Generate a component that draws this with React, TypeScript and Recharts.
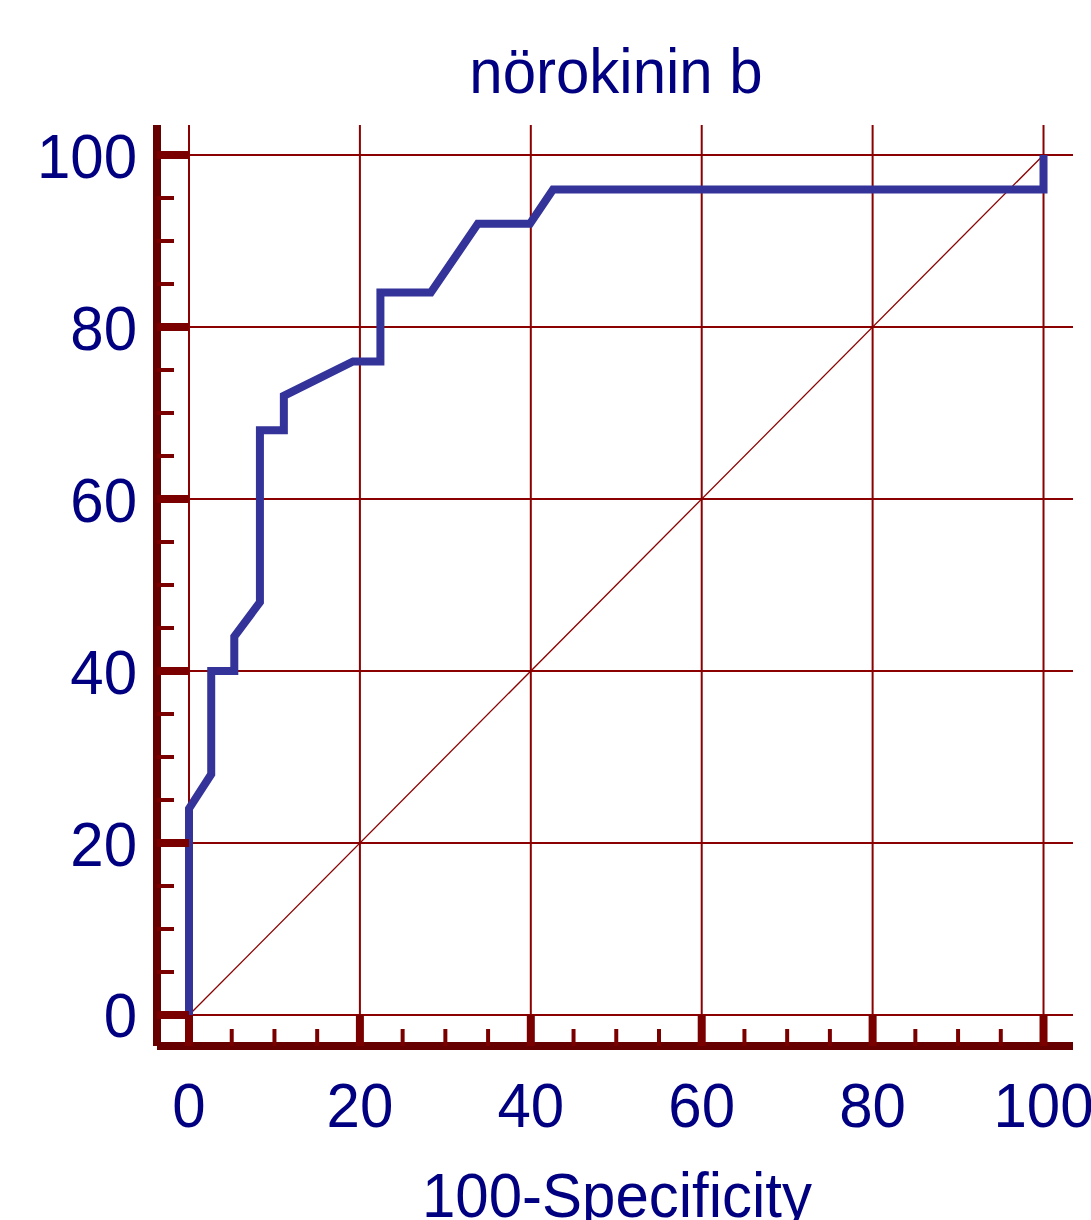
import React from 'react';
import { LineChart, Line, XAxis, YAxis, CartesianGrid } from 'recharts';

// ROC curve vertices (100-Specificity, Sensitivity)
const rocX = [0, 0, 2.6, 2.6, 5.3, 5.3, 8.3, 8.3, 11.1, 11.1, 19.2, 22.4, 22.4, 28.3, 33.8, 39.9, 42.6, 100, 100];
const rocY = [0, 24, 28, 40, 40, 44, 48, 68, 68, 72, 76, 76, 84, 84, 92, 92, 96, 96, 100];
// reference diagonal
const diagX = [0, 100];
const diagY = [0, 100];
// ticks
const majorTicks = [0, 20, 40, 60, 80, 100];
const allTicks = [0, 5, 10, 15, 20, 25, 30, 35, 40, 45, 50, 55, 60, 65, 70, 75, 80, 85, 90, 95, 100];
const chartTitle = 'nörokinin b';
const xAxisTitle = '100-Specificity';

const rocData = rocX.map((x, i) => ({ x, y: rocY[i] }));
const diagData = diagX.map((x, i) => ({ x, y: diagY[i] }));

const FONT = "'Liberation Sans', Arial, sans-serif";
const TEXT = '#000080';
const AXIS = '#660000';
const TICK = '#7a0000';
const GRID = '#8B0000';

const YTick = (props: any) => {
  const { x, y, payload } = props;
  const v = payload.value;
  const major = majorTicks.includes(v);
  return (
    <g>
      {major ? (
        <line x1={x} x2={x + 32} y1={y} y2={y} stroke={TICK} strokeWidth={8} />
      ) : (
        <line x1={x} x2={x + 17} y1={y} y2={y} stroke={TICK} strokeWidth={4} />
      )}
      {major && (
        <text
          transform={`translate(${x - 20},${y + 22.5}) scale(1,1.05)`}
          textAnchor="end"
          fontFamily={FONT}
          fontSize={60}
          fill={TEXT}
        >
          {v}
        </text>
      )}
    </g>
  );
};

const XTick = (props: any) => {
  const { x, y, payload } = props;
  const v = payload.value;
  const major = majorTicks.includes(v);
  return (
    <g>
      {major ? (
        <line x1={x} x2={x} y1={y} y2={y - 31} stroke={TICK} strokeWidth={8} />
      ) : (
        <line x1={x} x2={x} y1={y} y2={y - 17} stroke={TICK} strokeWidth={4} />
      )}
      {major && (
        <text
          transform={`translate(${x},${y + 81}) scale(1,1.05)`}
          textAnchor="middle"
          fontFamily={FONT}
          fontSize={60}
          fill={TEXT}
        >
          {v}
        </text>
      )}
    </g>
  );
};

export default function App() {
  return (
    <div style={{ position: 'absolute', left: 0, top: 0, width: 1091, height: 1220, background: '#fff' }}>
      <LineChart
        width={1091}
        height={1220}
        margin={{ top: 125, right: 18, bottom: 74, left: 17 }}
      >
        <CartesianGrid
          horizontalValues={majorTicks}
          verticalValues={majorTicks}
          stroke={GRID}
          strokeWidth={2}
          fill="none"
        />
        <XAxis
          type="number"
          dataKey="x"
          domain={[-3.745, 103.45]}
          allowDataOverflow
          ticks={allTicks}
          interval={0}
          height={100}
          tickSize={0}
          tickMargin={0}
          tickLine={false}
          axisLine={{ stroke: AXIS, strokeWidth: 8 }}
          tick={<XTick />}
        />
        <YAxis
          type="number"
          dataKey="y"
          domain={[-3.605, 103.49]}
          allowDataOverflow
          ticks={allTicks}
          interval={0}
          width={140}
          tickSize={0}
          tickMargin={0}
          tickLine={false}
          axisLine={{ stroke: AXIS, strokeWidth: 8 }}
          tick={<YTick />}
        />
        <Line
          data={diagData}
          dataKey="y"
          type="linear"
          stroke={GRID}
          strokeWidth={1.3}
          dot={false}
          activeDot={false}
          isAnimationActive={false}
        />
        <Line
          data={rocData}
          dataKey="y"
          type="linear"
          stroke="#333399"
          strokeWidth={8}
          strokeLinejoin="miter"
          strokeLinecap="butt"
          dot={false}
          activeDot={false}
          isAnimationActive={false}
        />
      </LineChart>
      <svg
        width={1091}
        height={1220}
        style={{ position: 'absolute', left: 0, top: 0, pointerEvents: 'none' }}
      >
        <text
          transform="translate(616,93) scale(1,1.05)"
          textAnchor="middle"
          fontFamily={FONT}
          fontSize={60}
          fill={TEXT}
        >
          {chartTitle}
        </text>
        <text
          transform="translate(617,1217) scale(1,1.05)"
          textAnchor="middle"
          fontFamily={FONT}
          fontSize={60}
          fill={TEXT}
        >
          {xAxisTitle}
        </text>
      </svg>
    </div>
  );
}
